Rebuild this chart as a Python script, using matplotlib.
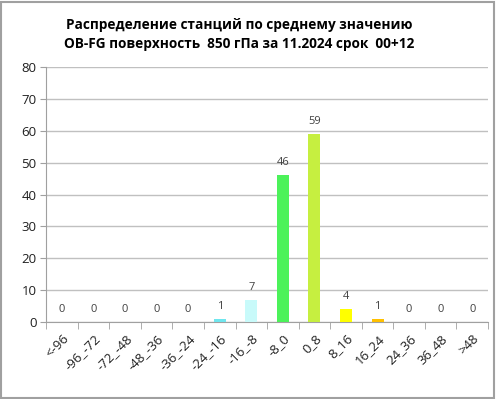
import matplotlib
matplotlib.use("Agg")
import matplotlib.pyplot as plt
import numpy as np

# data
categories = ['<-96', '-96_-72', '-72_-48', '-48_-36', '-36_-24', '-24_-16', '-16_-8',
              '-8_0', '0_8', '8_16', '16_24', '24_36', '36_48', '>48']
counts = [0, 0, 0, 0, 0, 1, 7, 46, 59, 4, 1, 0, 0, 0]
bar_colors = ['#4f81bd'] * 5 + ['#6fe6ee', '#c8fafa', '#4cf25a', '#c6ef40',
                                 '#ffff00', '#ffc000'] + ['#4f81bd'] * 3
title = 'Распределение станций по среднему значению\nOB-FG поверхность  850 гПа за 11.2024 срок  00+12'

plt.rcParams['font.family'] = ['Open Sans', 'DejaVu Sans']

fig = plt.figure(figsize=(4.96, 3.99), dpi=100)
ax = fig.add_axes([0.093, 0.193, 0.891, 0.639])

x = np.arange(len(categories))
ax.bar(x, counts, width=0.38, color=bar_colors, zorder=3)
for xi, c in zip(x, counts):
    ax.text(xi, c + 2.2, str(c), ha='center', va='bottom', fontsize=8, color='#404040')

ax.set_xlim(-0.5, len(categories) - 0.5)
ax.set_ylim(0, 80)
ax.set_yticks(range(0, 81, 10))
ax.yaxis.grid(True, color='#c0c0c0', linewidth=1.0, zorder=0)
ax.tick_params(axis='y', length=4, color='#a0a0a0', labelsize=9.5, labelcolor='#202020', pad=3)

ax.set_xticks(x)
ax.set_xticklabels(categories, rotation=45, ha='right', rotation_mode='anchor',
                   fontsize=9.5, color='#202020')
ax.tick_params(axis='x', length=0, pad=7)
ax.set_xticks(np.arange(-0.5, len(categories), 1.0), minor=True)
ax.tick_params(axis='x', which='minor', length=5, color='#a0a0a0')

for s in ['top', 'right']:
    ax.spines[s].set_visible(False)
ax.spines['left'].set_color('#a0a0a0')
ax.spines['bottom'].set_color('#a0a0a0')

fig.text(0.483, 0.955, title, ha='center', va='top', fontsize=9.8, fontweight='bold',
         linespacing=1.45)

# outer border
fig.patches.append(plt.Rectangle((0.002, 0.002), 0.994, 0.994, transform=fig.transFigure,
                                 fill=False, edgecolor='#a0a0a0', linewidth=1.5))

fig.savefig('out.png', dpi=100)
